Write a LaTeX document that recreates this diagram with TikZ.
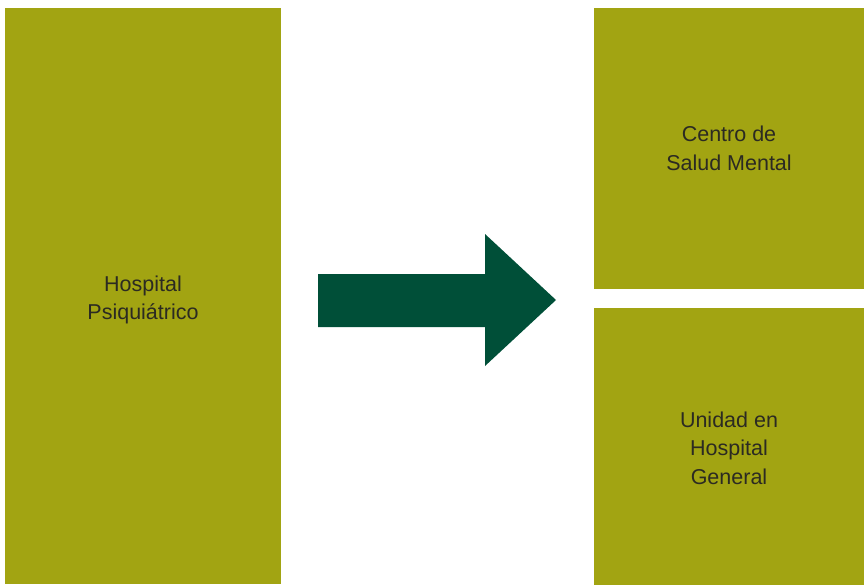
\documentclass[tikz,border=0pt]{standalone}
\usepackage{fontspec}
\setmainfont{Liberation Sans}
\definecolor{olive}{HTML}{A2A412}
\definecolor{darkgreen}{HTML}{004F38}
\definecolor{txt}{HTML}{2B2A22}
\begin{document}
\begin{tikzpicture}[x=1pt,y=-1pt,
  box/.style={fill=olive,draw=none,inner sep=0pt,text=txt,align=center,
    font=\fontsize{21.5}{28.5}\selectfont}]
\useasboundingbox (0,0) rectangle (864,584);
\node[box,minimum width=276pt,minimum height=576pt] (hosp) at (143,296) {};
\node[text=txt,align=center,font=\fontsize{21.5}{28.5}\selectfont] (hosplab) at (143,300) {Hospital\\Psiquiátrico};
\node[box,minimum width=270pt,minimum height=281pt] (csm) at (729,148.5) {Centro de\\Salud Mental};
\node[box,minimum width=270pt,minimum height=277pt] (uhg) at (729,446) {};
\node[text=txt,align=center,font=\fontsize{21.5}{28.5}\selectfont] (uhglab) at (729,448) {Unidad en\\Hospital\\General};
\fill[darkgreen] (318,274) -- (485,274) -- (485,234) -- (556,300) -- (485,366) -- (485,327) -- (318,327) -- cycle;
\end{tikzpicture}
\end{document}
